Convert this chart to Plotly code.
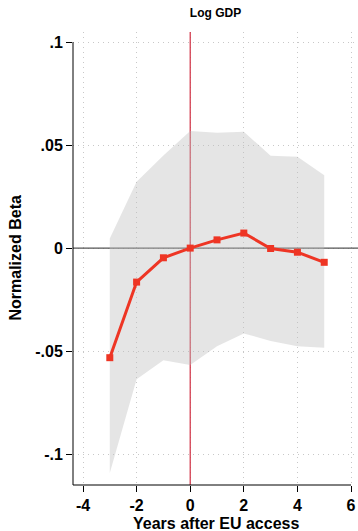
import plotly.graph_objects as go

# Event-study estimates: years relative to EU accession
years = [-3, -2, -1, 0, 1, 2, 3, 4, 5]
beta = [-0.0532, -0.0165, -0.0047, 0.0, 0.0040, 0.0073, -0.0002, -0.0020, -0.0069]
ci_upper = [0.0047, 0.0322, 0.0450, 0.0568, 0.0560, 0.0565, 0.0448, 0.0443, 0.0354]
ci_lower = [-0.1092, -0.0637, -0.0544, -0.0568, -0.0476, -0.0414, -0.0451, -0.0476, -0.0484]

x_ticks = [-4, -2, 0, 2, 4, 6]
y_ticks = [-0.1, -0.05, 0, 0.05, 0.1]
y_tick_text = ["-.1", "-.05", "0", ".05", ".1"]

x_range = [-4.373, 6.26]
y_range = [-0.1150, 0.1049]

FONT = "Liberation Sans, Arial, Helvetica, sans-serif"
RED = "#ee3524"

fig = go.Figure()

# Accession-year marker line
fig.add_trace(go.Scatter(
    x=[0, 0], y=y_range, mode="lines",
    line=dict(color="rgb(208,45,65)", width=1.2),
    hoverinfo="skip", showlegend=False,
))

# Zero reference line
fig.add_trace(go.Scatter(
    x=x_range, y=[0, 0], mode="lines",
    line=dict(color="#555555", width=1.1),
    hoverinfo="skip", showlegend=False,
))

# Confidence band
fig.add_trace(go.Scatter(
    x=years + years[::-1],
    y=ci_upper + ci_lower[::-1],
    fill="toself", mode="lines",
    fillcolor="rgba(190,190,190,0.40)",
    line=dict(width=0),
    hoverinfo="skip", showlegend=False,
))

# Point estimates
fig.add_trace(go.Scatter(
    x=years, y=beta, mode="lines+markers",
    line=dict(color=RED, width=3),
    marker=dict(symbol="square", size=7, color=RED),
    showlegend=False,
))

axis_common = dict(
    showline=False, zeroline=False,
    showgrid=True, gridcolor="#c8c8c8", gridwidth=1, griddash="1px,4px",
    ticks="outside", ticklen=6, tickcolor="black", tickwidth=1,
    tickfont=dict(family=FONT, size=16, color="black", weight="bold"),
)

fig.update_xaxes(range=x_range, tickvals=x_ticks,
                 ticktext=[str(v) for v in x_ticks], **axis_common)
fig.update_yaxes(range=y_range, tickvals=y_ticks, ticktext=y_tick_text,
                 **axis_common)

# Axis lines spanning the labelled tick range
fig.add_shape(type="line", xref="paper", yref="y",
              x0=0, x1=0, y0=y_range[0], y1=0.1,
              line=dict(color="black", width=1))
fig.add_shape(type="line", xref="x", yref="paper",
              x0=x_range[0], x1=6, y0=0, y1=0,
              line=dict(color="black", width=1))

fig.add_annotation(text="Normalized Beta", xref="paper", yref="paper",
                   x=-0.2035, y=0.5, xanchor="center", yanchor="middle",
                   textangle=-90, showarrow=False,
                   font=dict(family=FONT, size=16, color="black", weight="bold"))
fig.add_annotation(text="Years after EU access", xref="paper", yref="paper",
                   x=0.5, y=-0.084, xanchor="center", yanchor="middle",
                   showarrow=False,
                   font=dict(family=FONT, size=16, color="black", weight="bold"))

fig.update_layout(
    width=358, height=531,
    margin=dict(l=73, r=0, t=32, b=46),
    paper_bgcolor="white", plot_bgcolor="white",
    title=dict(text="Log GDP", x=0.5, xref="paper", xanchor="center",
               y=1 - 12.7 / 531, yanchor="middle",
               font=dict(family=FONT, size=12, color="black", weight="bold")),
)

fig.write_html("out.html")
